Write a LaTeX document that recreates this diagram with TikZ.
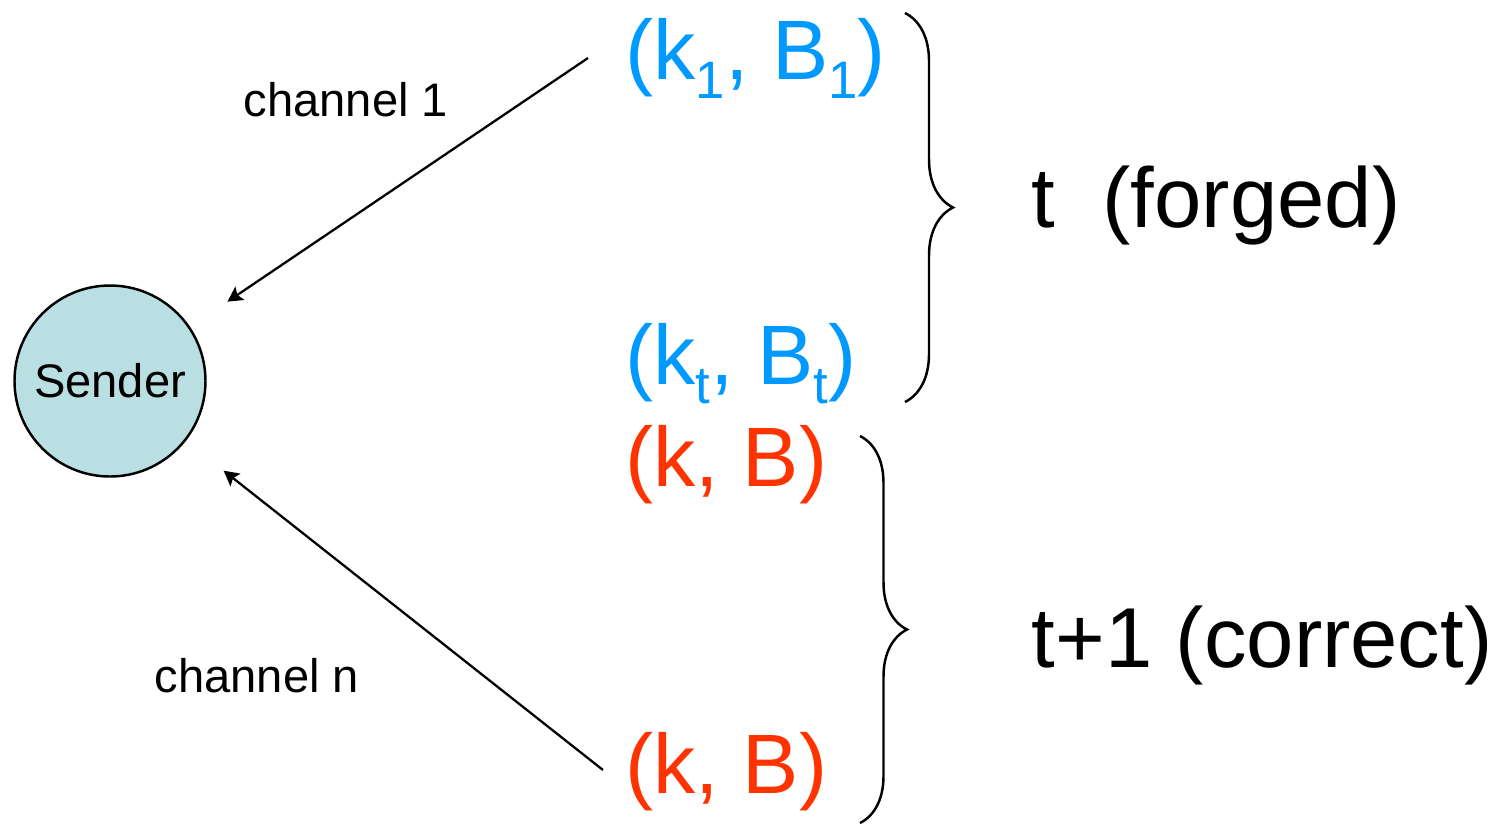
\documentclass[tikz,border=0pt]{standalone}
\usepackage{fontspec}
\setmainfont{Liberation Sans}
\usetikzlibrary{decorations.pathreplacing,arrows.meta}
\definecolor{keyblue}{HTML}{0099FF}
\definecolor{keyred}{HTML}{FF3300}
\definecolor{senderfill}{HTML}{B9DFE3}
\newcommand{\lo}[1]{\raisebox{-0.235em}{\fontsize{15}{15}\selectfont #1}}

\begin{document}
\begin{tikzpicture}[big/.style={font=\fontsize{24}{29}\selectfont,inner sep=0pt,anchor=base west},
    label/.style={font=\fontsize{24.2}{29}\selectfont,inner sep=0pt,anchor=base west},
    small/.style={font=\fontsize{13.4}{16}\selectfont,inner sep=0pt},
    link/.style={-{Stealth[length=1.5mm,width=1.6mm,inset=0.3mm]},line width=0.65pt,shorten >=#1},
    curly/.style={decorate,decoration={brace,amplitude=#1},line width=0.7pt}]
  \useasboundingbox (0,0) rectangle (15.02,-8.25);
  \node[circle,draw,fill=senderfill,line width=0.7pt,minimum size=1.91cm,small] (sender) at (1.10,-3.81) {Sender};
  \node[big,text=keyblue] (k1) at (6.25,-0.79) {(k\lo{1}, B\lo{1})};
  \node[big,text=keyblue] (kt) at (6.25,-3.84) {(k\lo{t}, B\lo{t})};
  \node[big,text=keyred] (ka) at (6.25,-4.86) {(k, B)};
  \node[big,text=keyred] (kb) at (6.25,-7.93) {(k, B)};
  \node[label] (forged) at (10.31,-2.27) {t\ \ (forged)};
  \node[label] (correct) at (10.31,-6.67) {t+1 (correct)};
  \node[small] (ch1) at (3.46,-1.00) {channel 1};
  \node[small] (chn) at (2.57,-6.76) {channel n};
  % free ends of the two channels
  \coordinate (s1) at (5.88,-0.58);
  \coordinate (sn) at (6.03,-7.70);
  \foreach \from/\cut in {s1/0.45cm,sn/0.48cm}
    \draw[link=\cut] (\from) -- (sender);
  \draw[curly=0.48cm] (9.05,-0.13) -- (9.05,-4.02);
  \draw[curly=0.47cm] (8.60,-4.36) -- (8.60,-8.23);
\end{tikzpicture}
\end{document}
